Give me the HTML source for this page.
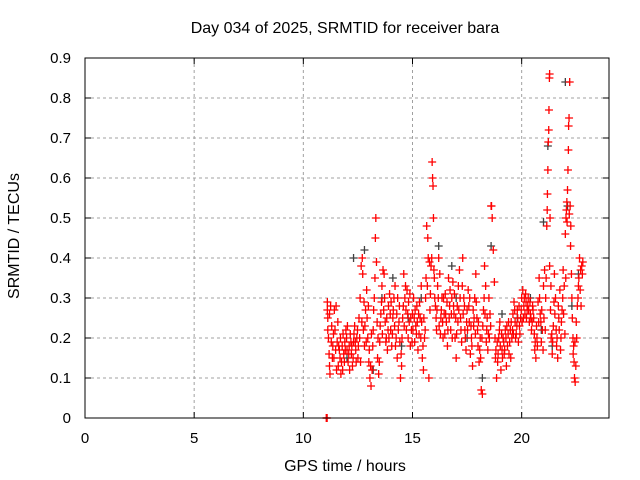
<!DOCTYPE html>
<html><head><meta charset="utf-8"><style>
body{margin:0;background:#fff}
svg{display:block;font-family:"Liberation Sans",sans-serif}
</style></head><body>
<svg id="chart" width="640" height="480" viewBox="0 0 640 480" xmlns="http://www.w3.org/2000/svg">
<rect width="640" height="480" fill="#fff"/>
<text x="345" y="33" font-size="16" text-anchor="middle">Day 034 of 2025, SRMTID for receiver bara</text>
<text x="345" y="471" font-size="16" text-anchor="middle">GPS time / hours</text>
<text transform="translate(19,236) rotate(-90)" font-size="16" text-anchor="middle">SRMTID / TECUs</text>
<g id="grid"></g>
<g id="marks"></g>
<rect x="85" y="58" width="524" height="360" fill="none" stroke="#000" stroke-width="1"/>
<g id="ticks"></g>
</svg>
<script>
const xTicks=[0,5,10,15,20];
const yTicks=[0,0.1,0.2,0.3,0.4,0.5,0.6,0.7,0.8,0.9];
const yTickLabels=["0","0.1","0.2","0.3","0.4","0.5","0.6","0.7","0.8","0.9"];
const grayPoints=[[12.3,0.4],[12.8,0.42],[13.2,0.12],[13.6,0.3],[14.1,0.35],[14.8,0.25],[15.4,0.3],[16.2,0.43],[16.8,0.38],[17.5,0.2],[18.2,0.1],[18.6,0.43],[19.1,0.26],[19.8,0.25],[20.4,0.3],[21.0,0.49],[21.2,0.68],[21.4,0.18],[22.0,0.84],[22.1,0.53],[22.3,0.28],[22.6,0.36],[12.0,0.15],[14.5,0.18],[17.0,0.3],[20.9,0.22]];
const redPoints=[
[11.05,0],[11.07,0],[11.09,0],[11.1,0.29],[11.1,0.27],[11.12,0.25],[11.15,0.2],[11.18,0.16],[11.2,0.13],[11.22,0.11],[11.25,0.28],[11.3,0.23],[11.35,0.18],[11.4,0.15],[11.45,0.22],[11.5,0.28],[11.55,0.19],[11.6,0.13],[11.65,0.17],[11.7,0.2],[11.75,0.14],[11.8,0.12],[11.85,0.16],[11.9,0.19],[11.95,0.22],[12.0,0.17],[12.05,0.14],[12.1,0.18],[12.15,0.21],[12.2,0.16],[12.25,0.13],[12.3,0.19],[12.35,0.23],[12.4,0.17],[12.45,0.2],[12.5,0.15],[12.55,0.25],[12.6,0.3],[12.65,0.38],[12.7,0.4],[12.72,0.36],[12.75,0.22],[12.8,0.18],[12.85,0.27],[12.9,0.32],[12.95,0.2],[13.0,0.14],[13.05,0.1],[13.1,0.08],[13.15,0.12],[13.2,0.22],[13.25,0.3],[13.3,0.45],[13.32,0.5],[13.35,0.39],[13.4,0.15],[13.45,0.11],[13.5,0.19],[13.55,0.26],[13.6,0.33],[13.65,0.37],[13.7,0.36],[13.75,0.24],[13.8,0.2],[13.85,0.17],[13.9,0.28],[13.95,0.31],[14.0,0.22],[14.05,0.18],[14.1,0.25],[14.15,0.3],[14.2,0.33],[14.25,0.2],[14.3,0.15],[14.35,0.22],[14.4,0.28],[14.45,0.1],[14.5,0.13],[14.55,0.25],[14.6,0.36],[14.65,0.3],[14.7,0.27],[14.75,0.32],[14.8,0.2],[14.85,0.24],[14.9,0.18],[14.95,0.22],[15.0,0.26],[15.05,0.3],[15.1,0.19],[15.15,0.23],[15.2,0.28],[15.25,0.17],[15.3,0.21],[15.35,0.25],[15.4,0.33],[15.45,0.15],[15.5,0.12],[15.55,0.2],[15.6,0.3],[15.65,0.48],[15.7,0.45],[15.72,0.4],[15.75,0.1],[15.8,0.27],[15.85,0.38],[15.9,0.64],[15.92,0.6],[15.94,0.58],[15.96,0.5],[16.0,0.35],[16.05,0.28],[16.1,0.22],[16.15,0.33],[16.2,0.4],[16.25,0.36],[16.3,0.25],[16.35,0.3],[16.4,0.2],[16.45,0.26],[16.5,0.31],[16.55,0.24],[16.6,0.18],[16.65,0.35],[16.7,0.28],[16.75,0.22],[16.8,0.3],[16.85,0.34],[16.9,0.26],[16.95,0.2],[17.0,0.15],[17.05,0.28],[17.1,0.33],[17.15,0.37],[17.2,0.25],[17.25,0.19],[17.3,0.4],[17.35,0.3],[17.4,0.22],[17.45,0.17],[17.5,0.27],[17.55,0.32],[17.6,0.24],[17.65,0.16],[17.7,0.2],[17.75,0.13],[17.8,0.23],[17.85,0.3],[17.9,0.36],[17.95,0.25],[18.0,0.18],[18.05,0.14],[18.1,0.2],[18.15,0.07],[18.2,0.06],[18.25,0.27],[18.3,0.38],[18.35,0.33],[18.4,0.22],[18.45,0.17],[18.5,0.3],[18.55,0.26],[18.6,0.53],[18.62,0.53],[18.65,0.5],[18.7,0.42],[18.75,0.34],[18.8,0.15],[18.85,0.1],[18.9,0.14],[18.95,0.2],[19.0,0.24],[19.05,0.12],[19.1,0.17],[19.15,0.2],[19.2,0.16],[19.25,0.22],[19.3,0.13],[19.35,0.18],[19.4,0.24],[19.45,0.19],[19.5,0.15],[19.55,0.2],[19.6,0.26],[19.65,0.29],[19.7,0.24],[19.75,0.21],[19.8,0.27],[19.85,0.19],[19.9,0.23],[19.95,0.25],[20.0,0.3],[20.05,0.32],[20.1,0.28],[20.15,0.26],[20.2,0.29],[20.25,0.27],[20.3,0.3],[20.35,0.24],[20.4,0.26],[20.45,0.22],[20.5,0.28],[20.55,0.25],[20.6,0.17],[20.65,0.15],[20.7,0.2],[20.75,0.29],[20.8,0.35],[20.85,0.26],[20.9,0.19],[20.95,0.22],[21.0,0.33],[21.05,0.37],[21.1,0.3],[21.15,0.48],[21.17,0.52],[21.18,0.56],[21.2,0.62],[21.22,0.69],[21.24,0.72],[21.25,0.77],[21.27,0.85],[21.28,0.86],[21.3,0.5],[21.32,0.27],[21.35,0.2],[21.4,0.16],[21.45,0.23],[21.5,0.36],[21.55,0.3],[21.6,0.18],[21.65,0.15],[21.7,0.25],[21.75,0.32],[21.8,0.2],[21.85,0.27],[21.9,0.37],[21.95,0.33],[22.0,0.46],[22.03,0.5],[22.05,0.52],[22.07,0.54],[22.1,0.57],[22.12,0.62],[22.14,0.67],[22.15,0.73],[22.17,0.75],[22.2,0.84],[22.22,0.53],[22.25,0.48],[22.3,0.3],[22.35,0.2],[22.38,0.18],[22.4,0.14],[22.42,0.1],[22.45,0.09],[22.5,0.24],[22.55,0.28],[22.6,0.33],[22.65,0.4],[22.7,0.37],[22.75,0.38],[22.8,0.39]
];
const redPointsExtra=[
[11.12,0.22],[11.2,0.26],[11.28,0.19],[11.33,0.15],[11.38,0.21],[11.42,0.27],[11.48,0.17],[11.52,0.12],[11.58,0.24],[11.62,0.18],[11.68,0.15],[11.72,0.11],[11.78,0.18],[11.82,0.21],[11.88,0.14],[11.92,0.17],[11.98,0.2],[12.02,0.23],[12.08,0.16],[12.12,0.12],[12.18,0.19],[12.22,0.18],[12.28,0.15],[12.32,0.21],[12.38,0.19],[12.42,0.14],[12.48,0.22],[12.52,0.18],[12.58,0.2],[12.62,0.14],[12.68,0.24],[12.78,0.29],[12.82,0.23],[12.88,0.19],[12.92,0.25],[12.98,0.28],[13.02,0.17],[13.08,0.13],[13.12,0.21],[13.18,0.18],[13.22,0.27],[13.28,0.35],[13.38,0.24],[13.42,0.2],[13.48,0.14],[13.52,0.23],[13.58,0.29],[13.62,0.21],[13.68,0.27],[13.72,0.3],[13.78,0.19],[13.82,0.25],[13.88,0.22],[13.92,0.2],[13.98,0.26],[14.02,0.29],[14.08,0.21],[14.12,0.27],[14.18,0.23],[14.22,0.18],[14.28,0.26],[14.32,0.3],[14.38,0.24],[14.42,0.19],[14.48,0.16],[14.52,0.2],[14.58,0.28],[14.62,0.23],[14.68,0.33],[14.72,0.22],[14.78,0.26],[14.82,0.29],[14.88,0.31],[14.92,0.25],[14.98,0.19],[15.02,0.22],[15.08,0.25],[15.12,0.27],[15.18,0.21],[15.22,0.24],[15.28,0.26],[15.32,0.29],[15.38,0.2],[15.42,0.24],[15.48,0.18],[15.52,0.25],[15.58,0.22],[15.62,0.35],[15.68,0.33],[15.78,0.39],[15.82,0.31],[15.88,0.4],[15.98,0.37],[16.02,0.3],[16.08,0.25],[16.12,0.27],[16.18,0.3],[16.22,0.23],[16.28,0.21],[16.32,0.27],[16.38,0.24],[16.42,0.3],[16.48,0.21],[16.52,0.26],[16.58,0.29],[16.62,0.22],[16.68,0.25],[16.72,0.32],[16.78,0.26],[16.82,0.2],[16.88,0.28],[16.92,0.31],[16.98,0.25],[17.02,0.21],[17.08,0.24],[17.12,0.27],[17.18,0.3],[17.22,0.22],[17.28,0.33],[17.32,0.26],[17.38,0.28],[17.42,0.2],[17.48,0.24],[17.52,0.22],[17.58,0.28],[17.62,0.3],[17.68,0.23],[17.72,0.18],[17.78,0.27],[17.82,0.25],[17.88,0.21],[17.92,0.29],[17.98,0.22],[18.02,0.24],[18.08,0.17],[18.12,0.15],[18.18,0.2],[18.22,0.23],[18.28,0.3],[18.32,0.26],[18.38,0.19],[18.42,0.25],[18.48,0.21],[18.52,0.2],[18.58,0.23],[18.78,0.2],[18.82,0.17],[18.88,0.19],[18.92,0.16],[18.98,0.22],[19.02,0.18],[19.08,0.21],[19.12,0.15],[19.18,0.19],[19.22,0.17],[19.28,0.2],[19.32,0.23],[19.38,0.21],[19.42,0.16],[19.48,0.22],[19.52,0.24],[19.58,0.22],[19.62,0.21],[19.68,0.27],[19.72,0.2],[19.78,0.23],[19.82,0.25],[19.88,0.28],[19.92,0.21],[19.98,0.27],[20.02,0.24],[20.08,0.25],[20.12,0.3],[20.18,0.31],[20.22,0.25],[20.28,0.28],[20.32,0.27],[20.38,0.29],[20.42,0.25],[20.48,0.24],[20.52,0.27],[20.58,0.21],[20.62,0.19],[20.68,0.23],[20.72,0.18],[20.78,0.24],[20.82,0.3],[20.88,0.24],[20.92,0.27],[20.98,0.17],[21.02,0.25],[21.08,0.22],[21.12,0.35],[21.28,0.38],[21.34,0.33],[21.38,0.21],[21.42,0.19],[21.48,0.29],[21.52,0.26],[21.58,0.22],[21.62,0.2],[21.68,0.28],[21.72,0.22],[21.78,0.17],[21.82,0.24],[21.88,0.3],[21.92,0.26],[21.98,0.21],[22.02,0.35],[22.08,0.49],[22.18,0.51],[22.24,0.43],[22.28,0.36],[22.32,0.25],[22.36,0.16],[22.44,0.19],[22.48,0.13],[22.52,0.2],[22.58,0.3],[22.62,0.35],[22.68,0.32],[22.72,0.28],[22.78,0.36]
];
const NS="http://www.w3.org/2000/svg";
const X0=85,X1=609,Y0=418,Y1=58,XMAX=24,YMAX=0.9;
function xs(h){return X0+(X1-X0)*h/XMAX;}
function ys(v){return Y0-(Y0-Y1)*v/YMAX;}
const grid=document.getElementById('grid'),ticks=document.getElementById('ticks'),marks=document.getElementById('marks');
function mk(tag,attrs,parent){const e=document.createElementNS(NS,tag);for(const k in attrs)e.setAttribute(k,attrs[k]);parent.appendChild(e);return e;}
xTicks.forEach(t=>{const x=xs(t);
 if(t>0){const g=mk('line',{x1:x,y1:Y1,x2:x,y2:Y0,stroke:'#a0a0a0','stroke-dasharray':'3,3'},grid);
 
 }
 const tk=mk('path',{d:`M${x},${Y0}v-6M${x},${Y1}v6`,stroke:'#000'},ticks);
 
 
 const l=mk('text',{x:x,y:Y0+25,'font-size':15,'text-anchor':'middle'},ticks);l.textContent=t;
 
 });
yTicks.forEach((t,i)=>{const y=ys(t);
 if(t>0&&t<0.9){const g=mk('line',{x1:X0,y1:y,x2:X1,y2:y,stroke:'#a0a0a0','stroke-dasharray':'3,3'},grid);
 
 }
 const tk=mk('path',{d:`M${X0},${y}h6M${X1},${y}h-6`,stroke:'#000'},ticks);
 
 
 const l=mk('text',{x:X0-14,y:y+5,'font-size':15,'text-anchor':'end'},ticks);l.textContent=yTickLabels[i];
 
 });
function cross(p,color,name){const x=xs(p[0]),y=ys(p[1]);
 const c=mk('path',{d:`M${x-4},${y}h8M${x},${y-4}v8`,stroke:color,'stroke-width':1.3},marks);
 
 }
grayPoints.forEach(p=>cross(p,'#404040','gray-point'));
redPoints.forEach(p=>cross(p,'#ff0000','red-point'));
redPointsExtra.forEach(p=>cross(p,'#ff0000','red-point'));
</script>
</body></html>
